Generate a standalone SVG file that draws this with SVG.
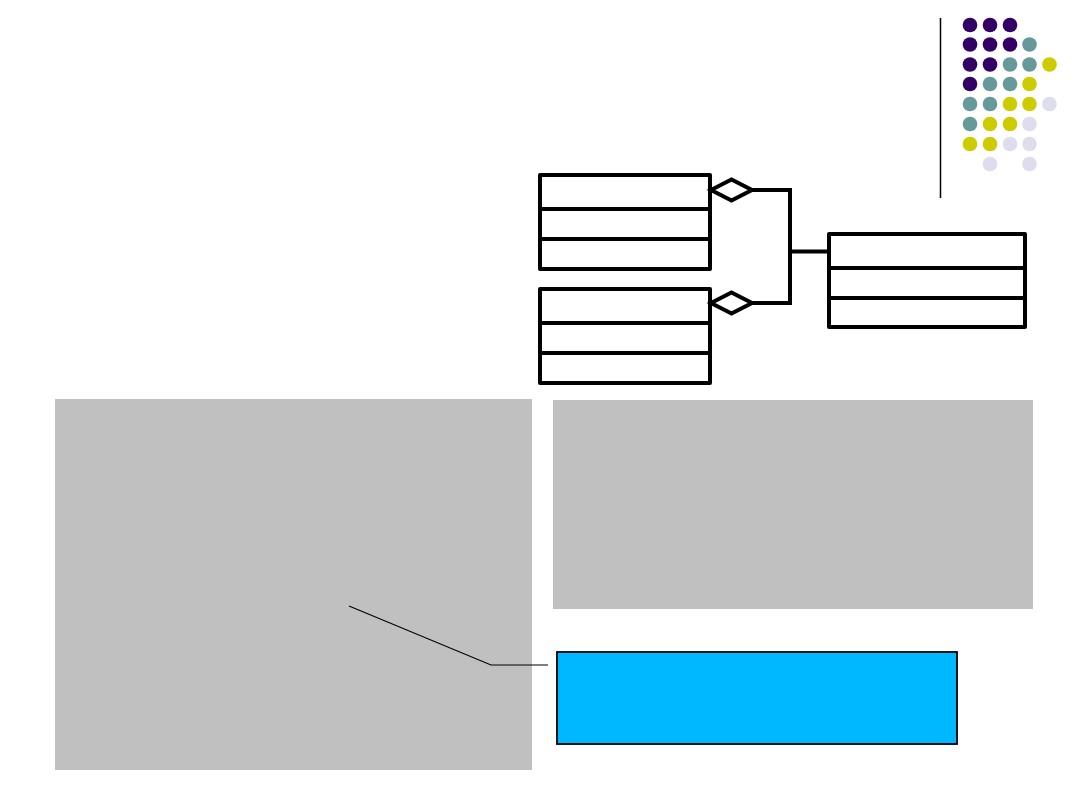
<svg xmlns="http://www.w3.org/2000/svg" width="1080" height="810" viewBox="0 0 1080 810">
<style>
.cls{fill:#fff;stroke:#000;stroke-width:4;stroke-linejoin:round}
.div{stroke:#000;stroke-width:4}
.conn{fill:none;stroke:#000;stroke-width:4}
.dia{fill:#fff;stroke:#000;stroke-width:4;stroke-linejoin:miter}
.p{fill:#330066}.t{fill:#669999}.y{fill:#CCCC00}.l{fill:#DDDDEE}
</style>
<rect width="1080" height="810" fill="#fff"/>
<g id="decor">
<line x1="940.5" y1="18" x2="940.5" y2="198" stroke="#000" stroke-width="1.5"/>
<g>
<circle class="p" cx="970" cy="25" r="7.3"/><circle class="p" cx="990" cy="25" r="7.3"/><circle class="p" cx="1010" cy="25" r="7.3"/>
<circle class="p" cx="970" cy="44.5" r="7.3"/><circle class="p" cx="990" cy="44.5" r="7.3"/><circle class="p" cx="1010" cy="44.5" r="7.3"/><circle class="t" cx="1029.5" cy="44.5" r="7.3"/>
<circle class="p" cx="970" cy="64.5" r="7.3"/><circle class="p" cx="990" cy="64.5" r="7.3"/><circle class="t" cx="1010" cy="64.5" r="7.3"/><circle class="t" cx="1029.5" cy="64.5" r="7.3"/><circle class="y" cx="1049.5" cy="64.5" r="7.3"/>
<circle class="p" cx="970" cy="84" r="7.3"/><circle class="t" cx="990" cy="84" r="7.3"/><circle class="t" cx="1010" cy="84" r="7.3"/><circle class="y" cx="1029.5" cy="84" r="7.3"/>
<circle class="t" cx="970" cy="104" r="7.3"/><circle class="t" cx="990" cy="104" r="7.3"/><circle class="y" cx="1010" cy="104" r="7.3"/><circle class="y" cx="1029.5" cy="104" r="7.3"/><circle class="l" cx="1049.5" cy="104" r="7.3"/>
<circle class="t" cx="970" cy="124" r="7.3"/><circle class="y" cx="990" cy="124" r="7.3"/><circle class="y" cx="1010" cy="124" r="7.3"/><circle class="l" cx="1029.5" cy="124" r="7.3"/>
<circle class="y" cx="970" cy="144" r="7.3"/><circle class="y" cx="990" cy="144" r="7.3"/><circle class="l" cx="1010" cy="144" r="7.3"/><circle class="l" cx="1029.5" cy="144" r="7.3"/>
<circle class="l" cx="990" cy="164" r="7.3"/><circle class="l" cx="1029.5" cy="164" r="7.3"/>
</g>
</g>
<g id="gray-left"><rect x="55" y="399" width="477" height="371" fill="#C0C0C0"/></g>
<g id="gray-right"><rect x="553" y="400" width="480" height="209" fill="#C0C0C0"/></g>
<g id="class1">
<rect class="cls" x="540" y="175" width="170" height="94"/>
<line class="div" x1="540" y1="209" x2="710" y2="209"/>
<line class="div" x1="540" y1="239" x2="710" y2="239"/>
</g>
<g id="class2">
<rect class="cls" x="540" y="289" width="170" height="94"/>
<line class="div" x1="540" y1="323" x2="710" y2="323"/>
<line class="div" x1="540" y1="353" x2="710" y2="353"/>
</g>
<g id="class3">
<rect class="cls" x="829" y="234" width="196" height="93"/>
<line class="div" x1="829" y1="268" x2="1025" y2="268"/>
<line class="div" x1="829" y1="298" x2="1025" y2="298"/>
</g>
<g id="note"><rect x="557" y="652" width="400" height="92" fill="#00B8FF" stroke="#000" stroke-width="1.8"/></g>
<g id="connectors">
<path class="conn" d="M752,190 H790 V303 H752"/>
<path class="conn" d="M790,251.5 H829"/>
<polygon class="dia" points="711,190 731.5,179.5 752,190 731.5,200.5"/>
<polygon class="dia" points="711,303 731.5,292.5 752,303 731.5,313.5"/>
<polyline points="349,606 491,665 548,665" fill="none" stroke="#000" stroke-width="1.2"/>
</g>
</svg>
